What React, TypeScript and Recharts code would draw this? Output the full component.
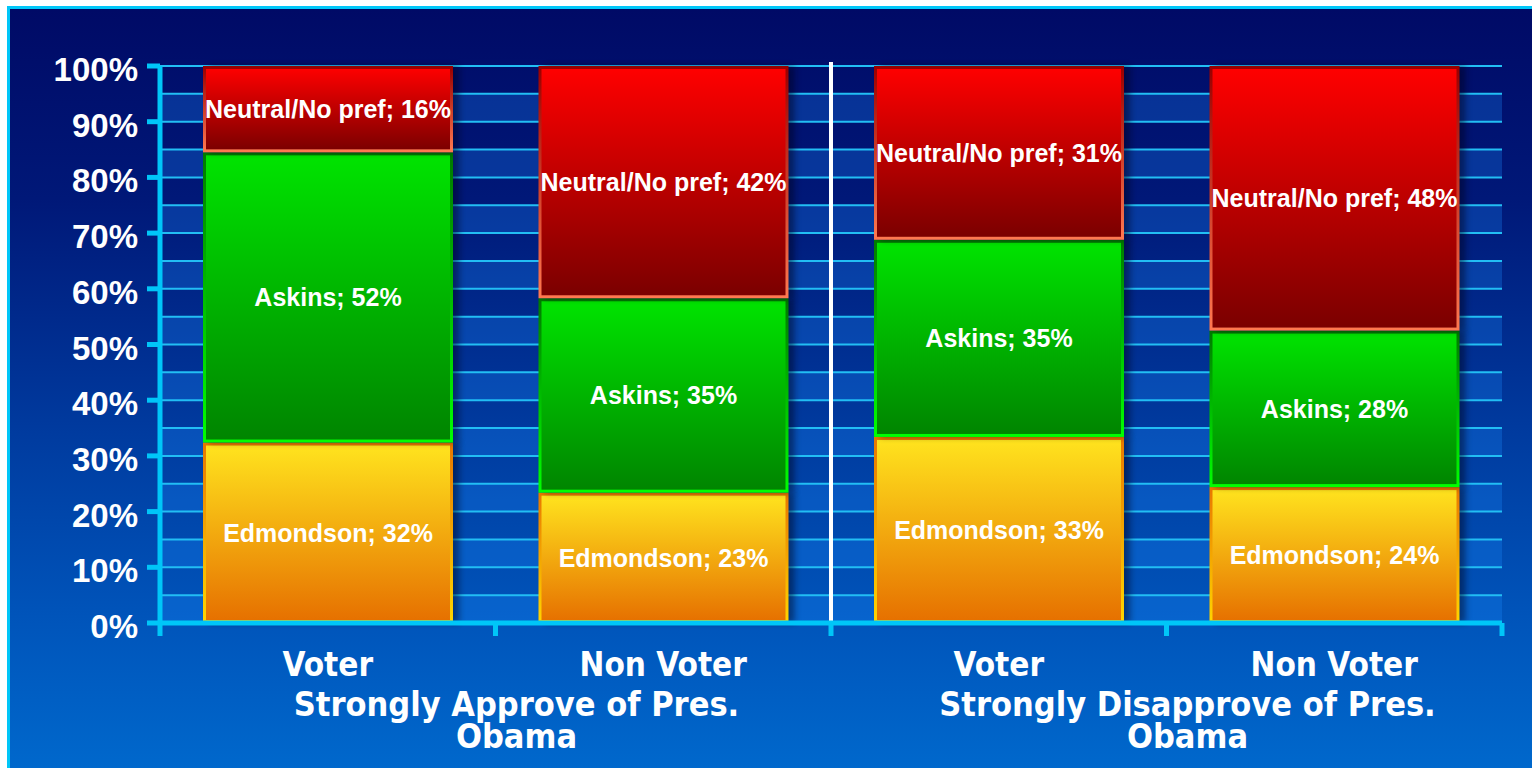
import { BarChart, Bar, XAxis, YAxis, CartesianGrid, LabelList, ReferenceLine } from "recharts";

// values (labels are the rounded figures)
const categories = ["Voter", "Non Voter", "Voter", "Non Voter"];
const groupOf = [0, 0, 1, 1];
const edmondson = [32.4, 23.4, 33.4, 24.4];
const askins = [52.1, 34.9, 35.4, 28.1];
const neutral = [15.5, 41.7, 31.2, 47.5];
const seriesNames = ["Edmondson", "Askins", "Neutral/No pref"];
const groupLabels = [
  ["Strongly Approve of Pres.", "Obama"],
  ["Strongly Disapprove of Pres.", "Obama"],
];
const yTicks = [0, 10, 20, 30, 40, 50, 60, 70, 80, 90, 100];
const gridTicks = [0, 5, 10, 15, 20, 25, 30, 35, 40, 45, 50, 55, 60, 65, 70, 75, 80, 85, 90, 95, 100];

const data = categories.map((cat, i) => ({
  key: `${groupOf[i]}-${cat}`,
  cat,
  edmondson: edmondson[i],
  askins: askins[i],
  neutral: neutral[i],
}));

const CHART_W = 1520;
const CHART_H = 759;
const MARGIN = { top: 57, right: 28, bottom: 0, left: 0 };
const Y_W = 150;
const BAND = (CHART_W - MARGIN.left - MARGIN.right - Y_W) / categories.length;

const CYAN = "#00c6f8";
const LABEL_FONT = "'Liberation Sans', Arial, sans-serif";
const AXIS_FONT = "'DejaVu Sans Condensed', 'DejaVu Sans', Verdana, sans-serif";

const makeShape = (id: string) => (props: any) => {
  const { x, y, width, height } = props;
  const sw = 3;
  return (
    <g>
      <rect x={x + 6} y={y} width={width} height={height} fill="#000018" opacity={0.45} filter="url(#barShadow)" />
      <rect
        x={x + sw / 2}
        y={y + sw / 2}
        width={width - sw}
        height={height - sw}
        fill={`url(#${id}Fill)`}
        stroke={`url(#${id}Stroke)`}
        strokeWidth={sw}
      />
    </g>
  );
};

const YTick = (props: any) => {
  const { x, y, payload } = props;
  return (
    <text x={x} y={y} dy={15} textAnchor="end" fill="#fff" fontSize={33} fontWeight="bold" fontFamily={LABEL_FONT}>
      {payload.value}%
    </text>
  );
};

// category label, boundary tick marks and the two-line group caption
const CatTick = (props: any) => {
  const { x, y, index } = props;
  const half = BAND / 2;
  const firstOfGroup = index === 0 || groupOf[index] !== groupOf[index - 1];
  const lastOne = index === categories.length - 1;
  const textProps = { fill: "#fff", fontWeight: "bold", fontFamily: AXIS_FONT, textAnchor: "middle" as const };
  return (
    <g>
      <line x1={x - half} x2={x - half} y1={y} y2={y + 13} stroke={CYAN} strokeWidth={5} />
      {lastOne && <line x1={x + half} x2={x + half} y1={y} y2={y + 13} stroke={CYAN} strokeWidth={5} />}
      <text x={x} y={y} dy={53} fontSize={33} {...textProps}>
        {categories[index]}
      </text>
      {firstOfGroup &&
        groupLabels[groupOf[index]].map((t, i) => (
          <text key={i} x={x + half + 21} y={y} dy={93 + i * 32} fontSize={34} {...textProps}>
            {t}
          </text>
        ))}
    </g>
  );
};

const labelProps = {
  position: "center" as const,
  fill: "#fff",
  fontSize: 25,
  fontWeight: "bold",
  fontFamily: LABEL_FONT,
};

export default function App() {
  return (
    <div
      style={{
        position: "absolute",
        left: 7,
        top: 6,
        width: 1525,
        height: 762,
        boxSizing: "border-box",
        borderTop: `3px solid ${CYAN}`,
        borderLeft: `3px solid ${CYAN}`,
        background: "linear-gradient(to bottom, #000a66 0%, #001878 25%, #003a9e 55%, #0054ba 80%, #0068cc 100%)",
        overflow: "hidden",
      }}
    >
      <BarChart width={CHART_W} height={CHART_H} data={data} margin={MARGIN} barCategoryGap={43}>
        <defs>
          <filter id="barShadow" x="-20%" y="-20%" width="140%" height="140%">
            <feGaussianBlur stdDeviation="3" />
          </filter>
          <linearGradient id="edmFill" x1="0" y1="0" x2="0" y2="1">
            <stop offset="0%" stopColor="#ffe41e" />
            <stop offset="100%" stopColor="#e67000" />
          </linearGradient>
          <linearGradient id="edmStroke" x1="0" y1="0" x2="0" y2="1">
            <stop offset="0%" stopColor="#e87800" />
            <stop offset="100%" stopColor="#ffd400" />
          </linearGradient>
          <linearGradient id="askFill" x1="0" y1="0" x2="0" y2="1">
            <stop offset="0%" stopColor="#00e400" />
            <stop offset="100%" stopColor="#008400" />
          </linearGradient>
          <linearGradient id="askStroke" x1="0" y1="0" x2="0" y2="1">
            <stop offset="0%" stopColor="#007a00" />
            <stop offset="100%" stopColor="#00ff00" />
          </linearGradient>
          <linearGradient id="neuFill" x1="0" y1="0" x2="0" y2="1">
            <stop offset="0%" stopColor="#ff0000" />
            <stop offset="100%" stopColor="#7a0000" />
          </linearGradient>
          <linearGradient id="neuStroke" x1="0" y1="0" x2="0" y2="1">
            <stop offset="0%" stopColor="#9a0000" />
            <stop offset="100%" stopColor="#ff7850" />
          </linearGradient>
        </defs>
        <CartesianGrid
          xAxisId="cat"
          vertical={false}
          horizontalValues={gridTicks}
          stroke="#22bef4"
          strokeWidth={2}
          horizontalFill={["transparent", "#1a8cff"]}
          fillOpacity={0.28}
        />
        <XAxis
          xAxisId="cat"
          dataKey="key"
          height={145}
          axisLine={{ stroke: CYAN, strokeWidth: 5 }}
          tickLine={false}
          tickSize={0}
          tickMargin={0}
          interval={0}
          tick={<CatTick />}
        />
        <YAxis
          domain={[0, 100]}
          ticks={yTicks}
          interval={0}
          width={Y_W}
          axisLine={{ stroke: CYAN, strokeWidth: 5 }}
          tickLine={{ stroke: CYAN, strokeWidth: 5 }}
          tickSize={13}
          tickMargin={9}
          tick={<YTick />}
        />
        <Bar xAxisId="cat" dataKey="edmondson" stackId="a" isAnimationActive={false} shape={makeShape("edm")}>
          <LabelList dataKey="edmondson" {...labelProps} formatter={(v: any) => `${seriesNames[0]}; ${Math.round(v)}%`} />
        </Bar>
        <Bar xAxisId="cat" dataKey="askins" stackId="a" isAnimationActive={false} shape={makeShape("ask")}>
          <LabelList dataKey="askins" {...labelProps} formatter={(v: any) => `${seriesNames[1]}; ${Math.round(v)}%`} />
        </Bar>
        <Bar xAxisId="cat" dataKey="neutral" stackId="a" isAnimationActive={false} shape={makeShape("neu")}>
          <LabelList dataKey="neutral" {...labelProps} formatter={(v: any) => `${seriesNames[2]}; ${Math.round(v)}%`} />
        </Bar>
        <ReferenceLine
          xAxisId="cat"
          position="start"
          segment={[{ x: data[2].key, y: 0 }, { x: data[2].key, y: 100.7 }]}
          stroke="#ffffff"
          strokeWidth={4}
          ifOverflow="visible"
        />
      </BarChart>
    </div>
  );
}
